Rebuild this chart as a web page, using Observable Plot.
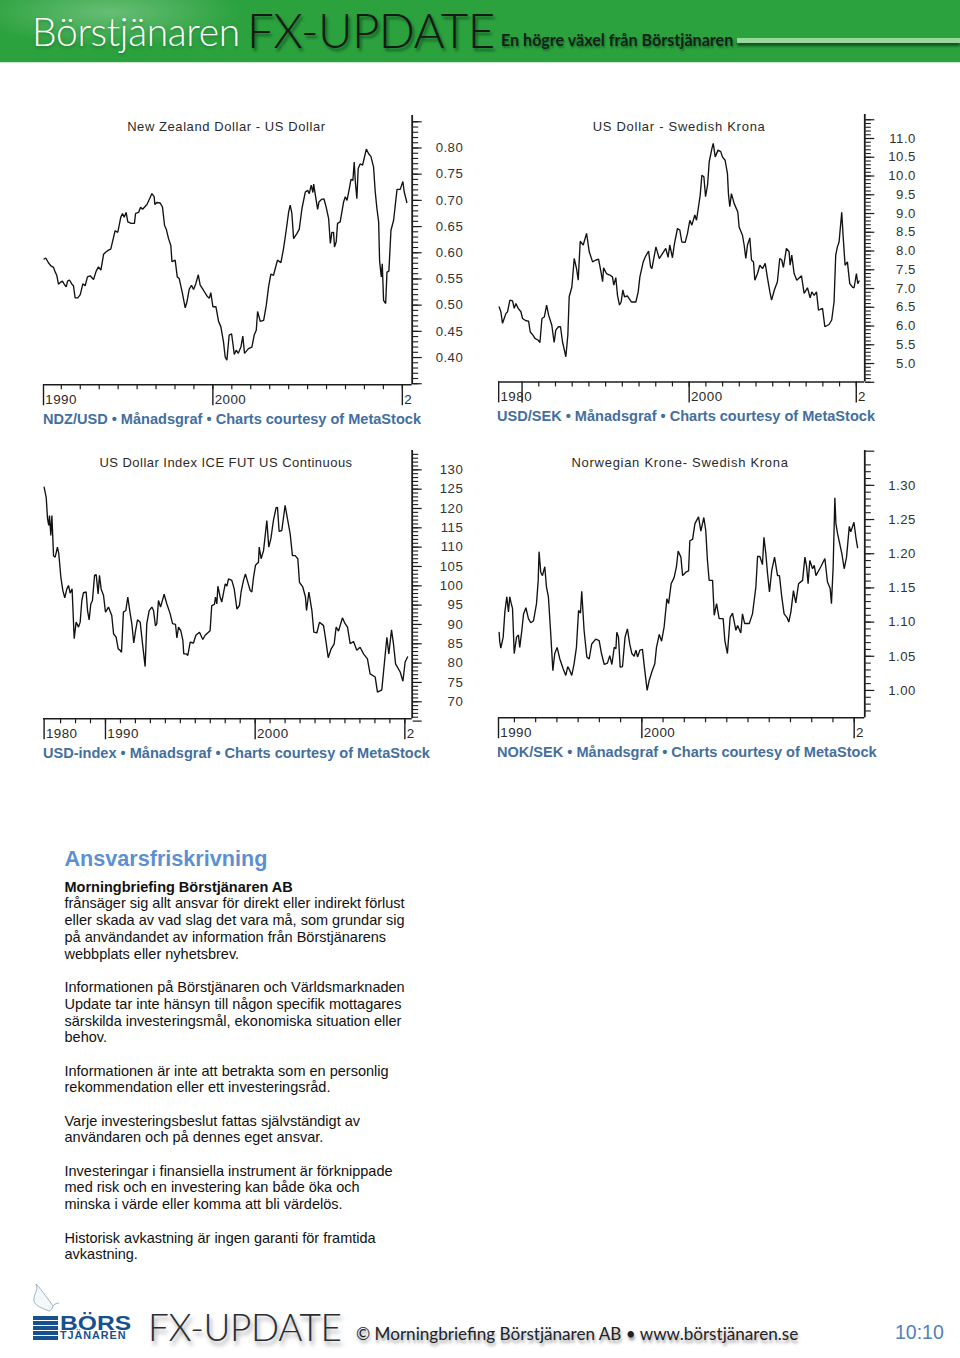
<!DOCTYPE html>
<html lang="sv">
<head>
<meta charset="utf-8">
<script src="https://cdn.jsdelivr.net/npm/d3@7"></script>
<script src="https://cdn.jsdelivr.net/npm/@observablehq/plot@0.6"></script>
<style>
html,body{margin:0;padding:0;background:#fff;}
#page{position:relative;width:960px;height:1358px;overflow:hidden;font-family:"Liberation Sans",Arial,sans-serif;}
.abs{position:absolute;white-space:nowrap;}
.chart{position:absolute;}
.chart svg{display:block;overflow:visible;}
#banner{position:absolute;left:0;top:0;width:960px;height:62px;background:#2ca23f;box-shadow:0 1px 1px #cfe6d2;}
#glow{position:absolute;left:0;top:0;width:300px;height:62px;background:radial-gradient(ellipse 130px 34px at 110px 12px,rgba(200,235,205,.38),rgba(44,162,63,0));}
.thin{font-family:Lato,"Open Sans",sans-serif;font-weight:300;}
.cap{font-weight:bold;font-size:14.55px;color:#436f9e;line-height:18px;}
.para{font-size:14.5px;line-height:16.75px;color:#111;left:64.5px;}
</style>
</head>
<body>
<div id="page">
  <div id="banner"><div id="glow"></div></div>
  <div class="abs thin" style="left:32px;top:7px;font-size:39px;line-height:48px;color:#fff;letter-spacing:-.35px;text-shadow:0 2px 3px rgba(30,80,40,.45)">Börstjänaren</div>
  <div class="abs thin" style="left:247px;top:2px;font-size:47.5px;line-height:56px;color:#151a15;letter-spacing:-.6px;text-shadow:2px 3px 3px rgba(0,50,15,.6)">FX-UPDATE</div>
  <div class="abs" style="left:501px;top:31px;font-family:Lato,sans-serif;font-weight:700;font-size:16.1px;line-height:18px;color:#12241a;text-shadow:1px 2px 2px rgba(0,50,15,.45)">En högre växel från Börstjänaren</div>
  <div class="abs" style="left:737px;top:38px;width:223px;height:5px;background:#9ad79c;box-shadow:0 3px 3px rgba(0,50,15,.7)"></div>

  <div id="c1" class="chart"></div>
  <div id="c2" class="chart"></div>
  <div id="c3" class="chart"></div>
  <div id="c4" class="chart"></div>

  <div class="abs cap" style="left:43px;top:410px">NDZ/USD • Månadsgraf • Charts courtesy of MetaStock</div>
  <div class="abs cap" style="left:497px;top:407px">USD/SEK • Månadsgraf • Charts courtesy of MetaStock</div>
  <div class="abs cap" style="left:43px;top:744px">USD-index • Månadsgraf • Charts courtesy of MetaStock</div>
  <div class="abs cap" style="left:497px;top:743px">NOK/SEK • Månadsgraf • Charts courtesy of MetaStock</div>

  <div class="abs" style="left:64.5px;top:846px;font-size:21.6px;line-height:26px;font-weight:bold;color:#5c90d2">Ansvarsfriskrivning</div>
  <div class="abs para" style="top:878.5px"><b>Morningbriefing Börstjänaren AB</b><br>frånsäger sig allt ansvar för direkt eller indirekt förlust<br>eller skada av vad slag det vara må, som grundar sig<br>på användandet av information från Börstjänarens<br>webbplats eller nyhetsbrev.</div>
  <div class="abs para" style="top:979px">Informationen på Börstjänaren och Världsmarknaden<br>Update tar inte hänsyn till någon specifik mottagares<br>särskilda investeringsmål, ekonomiska situation eller<br>behov.</div>
  <div class="abs para" style="top:1062.5px">Informationen är inte att betrakta som en personlig<br>rekommendation eller ett investeringsråd.</div>
  <div class="abs para" style="top:1112.5px">Varje investeringsbeslut fattas självständigt av<br>användaren och på dennes eget ansvar.</div>
  <div class="abs para" style="top:1162.5px">Investeringar i finansiella instrument är förknippade<br>med risk och en investering kan både öka och<br>minska i värde eller komma att bli värdelös.</div>
  <div class="abs para" style="top:1229.5px">Historisk avkastning är ingen garanti för framtida<br>avkastning.</div>

  <svg class="abs" style="left:30px;top:1282px" width="34" height="34" viewBox="0 0 34 34"><path d="M6 2 C9 8 3 13 4 19 C5 24 12 26 19 29 C21 29 22 27 23 24 C20 20 12 8 6 2 Z M23 24 C24 22 27 21 29 21" fill="#f4f8fb" stroke="#93a9b8" stroke-width="0.9"/></svg>
  <div class="abs" style="left:33px;top:1316px;width:25px;height:24px;background:repeating-linear-gradient(to bottom,#17508f 0 3.6px,#fff 3.6px 5px)"></div>
  <div class="abs" style="left:60px;top:1314px;font-weight:bold;font-size:20.5px;line-height:17px;color:#17508f;transform-origin:0 0;transform:scaleX(1.2)">BÖRS</div>
  <div class="abs" style="left:60px;top:1331px;font-weight:bold;font-size:10.8px;line-height:9px;color:#17508f;letter-spacing:.95px">TJÄNAREN</div>
  <div class="abs thin" style="left:148px;top:1300px;font-size:37px;line-height:54px;color:#2a2e33;letter-spacing:-.4px;text-shadow:2px 4px 4px rgba(70,70,70,.55)">FX-UPDATE</div>
  <div class="abs" style="left:356px;top:1323px;font-family:Lato,sans-serif;font-size:17.1px;line-height:21px;color:#1d2226;text-shadow:1px 3px 3px rgba(80,80,80,.55)">© Morningbriefing Börstjänaren AB • www.börstjänaren.se</div>
  <div class="abs" style="left:895px;top:1320px;font-size:19.5px;line-height:24px;color:#4f82b8">10:10</div>
</div>
<script>
const ndzUsd = [[1991.09,.588],[1991.18,.590],[1991.32,.581],[1991.45,.575],[1991.59,.572],[1991.68,.563],[1991.76,.557],[1991.85,.540],[1991.97,.544],[1992.06,.546],[1992.17,.539],[1992.26,.535],[1992.33,.546],[1992.43,.548],[1992.56,.540],[1992.64,.537],[1992.73,.514],[1992.87,.514],[1993.00,.520],[1993.14,.541],[1993.26,.537],[1993.38,.554],[1993.52,.556],[1993.70,.549],[1993.84,.565],[1993.96,.573],[1994.09,.567],[1994.23,.597],[1994.37,.602],[1994.49,.605],[1994.61,.607],[1994.76,.630],[1994.84,.642],[1994.98,.639],[1995.14,.668],[1995.23,.675],[1995.32,.668],[1995.42,.677],[1995.51,.659],[1995.69,.656],[1995.86,.656],[1995.92,.675],[1996.08,.677],[1996.18,.687],[1996.29,.683],[1996.52,.692],[1996.66,.703],[1996.78,.713],[1996.90,.707],[1996.94,.692],[1997.04,.696],[1997.22,.695],[1997.34,.687],[1997.45,.652],[1997.54,.645],[1997.66,.627],[1997.78,.614],[1997.84,.583],[1998.01,.586],[1998.12,.554],[1998.22,.551],[1998.38,.525],[1998.54,.495],[1998.63,.506],[1998.75,.530],[1998.87,.538],[1998.98,.530],[1999.10,.541],[1999.23,.558],[1999.33,.538],[1999.51,.528],[1999.68,.518],[1999.81,.513],[1999.89,.524],[2000.00,.497],[2000.16,.497],[2000.30,.469],[2000.42,.459],[2000.56,.430],[2000.65,.401],[2000.74,.395],[2000.86,.443],[2000.99,.445],[2001.13,.406],[2001.23,.414],[2001.34,.408],[2001.48,.420],[2001.58,.441],[2001.67,.408],[2001.88,.417],[2002.06,.420],[2002.18,.443],[2002.29,.452],[2002.36,.488],[2002.50,.469],[2002.68,.471],[2002.82,.500],[2002.94,.535],[2003.06,.559],[2003.20,.557],[2003.41,.586],[2003.59,.581],[2003.73,.608],[2003.87,.643],[2004.00,.678],[2004.08,.691],[2004.17,.675],[2004.26,.627],[2004.44,.637],[2004.56,.645],[2004.70,.684],[2004.88,.716],[2005.00,.719],[2005.09,.713],[2005.19,.729],[2005.28,.715],[2005.32,.731],[2005.44,.703],[2005.53,.683],[2005.60,.697],[2005.74,.702],[2005.86,.703],[2005.98,.687],[2006.11,.665],[2006.20,.618],[2006.28,.639],[2006.37,.639],[2006.42,.611],[2006.51,.621],[2006.58,.656],[2006.72,.659],[2006.90,.697],[2006.99,.707],[2007.08,.700],[2007.20,.722],[2007.29,.740],[2007.39,.738],[2007.46,.773],[2007.52,.735],[2007.60,.703],[2007.67,.761],[2007.78,.770],[2007.90,.767],[2008.10,.798],[2008.22,.789],[2008.34,.784],[2008.48,.764],[2008.57,.716],[2008.66,.684],[2008.75,.659],[2008.80,.584],[2008.89,.554],[2008.94,.579],[2009.01,.509],[2009.12,.503],[2009.19,.563],[2009.29,.565],[2009.40,.643],[2009.54,.662],[2009.72,.721],[2009.89,.721],[2010.03,.736],[2010.10,.716],[2010.24,.696]];

const usdSek = [[1988.63,6.51],[1988.73,6.38],[1988.83,6.07],[1988.93,6.20],[1989.03,6.33],[1989.13,6.38],[1989.27,6.69],[1989.43,6.67],[1989.53,6.47],[1989.63,6.60],[1989.77,6.47],[1989.93,6.38],[1990.03,6.20],[1990.23,6.14],[1990.39,6.13],[1990.49,5.84],[1990.63,5.77],[1990.77,5.67],[1990.97,5.62],[1991.07,5.56],[1991.19,6.20],[1991.33,6.24],[1991.47,6.56],[1991.59,6.29],[1991.78,6.02],[1991.92,5.56],[1992.02,5.89],[1992.18,5.98],[1992.30,5.98],[1992.42,5.58],[1992.62,5.18],[1992.74,5.76],[1992.82,6.78],[1992.98,7.04],[1993.12,7.80],[1993.26,7.53],[1993.36,7.22],[1993.48,8.26],[1993.66,8.16],[1993.86,8.47],[1994.02,7.98],[1994.22,7.71],[1994.42,7.76],[1994.58,7.78],[1994.72,7.45],[1994.82,7.18],[1994.88,7.55],[1995.05,7.40],[1995.25,7.36],[1995.41,7.31],[1995.49,7.09],[1995.61,7.29],[1995.71,6.82],[1995.83,6.56],[1995.93,6.64],[1996.03,6.96],[1996.13,6.78],[1996.31,6.80],[1996.55,6.64],[1996.81,6.64],[1996.95,6.91],[1997.05,7.31],[1997.25,7.71],[1997.37,7.84],[1997.57,8.00],[1997.69,7.58],[1997.77,7.53],[1998.01,8.11],[1998.21,7.80],[1998.40,7.93],[1998.60,8.07],[1998.74,7.83],[1998.84,8.16],[1999.00,7.82],[1999.12,8.20],[1999.30,8.60],[1999.44,8.56],[1999.56,8.24],[1999.76,8.23],[1999.90,8.47],[2000.04,8.82],[2000.16,8.69],[2000.34,8.96],[2000.44,8.82],[2000.66,9.49],[2000.76,10.02],[2000.88,9.98],[2000.98,9.45],[2001.10,9.76],[2001.20,10.38],[2001.36,10.73],[2001.44,10.87],[2001.56,10.51],[2001.73,10.69],[2001.89,10.65],[2001.99,10.51],[2002.15,10.42],[2002.29,10.07],[2002.35,9.53],[2002.43,9.18],[2002.53,9.53],[2002.69,9.27],[2002.91,9.04],[2002.99,8.64],[2003.19,8.42],[2003.29,8.16],[2003.39,7.80],[2003.49,8.16],[2003.63,8.35],[2003.73,7.76],[2003.85,7.71],[2003.93,7.22],[2004.09,7.40],[2004.23,7.62],[2004.39,7.53],[2004.55,7.67],[2004.69,7.27],[2004.83,6.91],[2004.93,6.69],[2005.10,6.96],[2005.28,7.18],[2005.42,7.80],[2005.54,7.76],[2005.64,7.56],[2005.82,8.07],[2005.98,7.98],[2006.04,7.62],[2006.14,7.89],[2006.28,7.40],[2006.44,7.22],[2006.72,7.34],[2006.88,6.87],[2007.08,7.02],[2007.24,6.75],[2007.34,6.91],[2007.48,6.82],[2007.62,6.91],[2007.74,6.42],[2007.98,6.47],[2008.12,5.98],[2008.37,6.04],[2008.53,6.16],[2008.67,6.64],[2008.77,7.89],[2008.87,8.11],[2008.97,8.24],[2009.13,9.03],[2009.21,8.42],[2009.33,7.62],[2009.47,7.71],[2009.61,7.13],[2009.77,7.04],[2009.87,7.02],[2010.01,7.40],[2010.09,7.13],[2010.17,7.20]];

const usdIndex = [[1985.90,125.5],[1986.04,122.9],[1986.13,117.3],[1986.21,115.6],[1986.26,118.2],[1986.35,113.0],[1986.42,118.2],[1986.53,107.8],[1986.64,107.4],[1986.79,110.0],[1986.88,108.3],[1987.02,102.2],[1987.15,98.8],[1987.28,96.9],[1987.42,99.2],[1987.53,100.1],[1987.64,98.1],[1987.77,99.2],[1987.91,86.3],[1988.04,90.6],[1988.20,89.3],[1988.31,90.6],[1988.42,96.2],[1988.53,98.2],[1988.71,98.4],[1988.80,93.6],[1988.91,91.2],[1989.02,95.3],[1989.13,96.2],[1989.27,102.7],[1989.38,102.9],[1989.51,97.9],[1989.60,102.7],[1989.71,99.2],[1989.87,97.5],[1990.00,93.2],[1990.20,94.5],[1990.42,92.3],[1990.54,87.6],[1990.71,86.7],[1990.85,83.7],[1990.98,83.3],[1991.07,82.8],[1991.20,93.2],[1991.36,93.6],[1991.49,97.1],[1991.65,92.8],[1991.76,90.2],[1991.89,85.2],[1992.01,88.4],[1992.14,91.2],[1992.32,90.6],[1992.45,85.9],[1992.65,79.1],[1992.76,90.2],[1992.92,93.6],[1993.10,94.5],[1993.21,93.6],[1993.34,89.6],[1993.43,90.2],[1993.54,96.2],[1993.68,94.5],[1993.92,97.8],[1994.10,95.3],[1994.32,92.8],[1994.48,90.2],[1994.68,90.0],[1994.77,86.5],[1994.88,89.3],[1995.03,88.4],[1995.17,85.9],[1995.23,82.4],[1995.39,82.4],[1995.50,82.0],[1995.66,85.4],[1995.88,85.2],[1996.04,87.2],[1996.28,88.0],[1996.50,86.1],[1996.66,87.2],[1996.99,88.4],[1997.10,94.9],[1997.28,95.2],[1997.35,97.1],[1997.44,95.3],[1997.51,99.9],[1997.66,97.1],[1997.77,95.8],[1998.00,100.5],[1998.11,99.9],[1998.22,101.8],[1998.44,101.4],[1998.60,99.2],[1998.78,94.0],[1998.95,94.9],[1999.06,98.4],[1999.22,101.4],[1999.35,103.1],[1999.51,100.9],[1999.67,98.8],[1999.78,98.4],[1999.89,102.2],[2000.02,105.3],[2000.22,106.1],[2000.27,110.0],[2000.40,107.0],[2000.56,109.1],[2000.78,116.9],[2000.91,110.0],[2001.05,112.2],[2001.22,116.9],[2001.40,120.2],[2001.49,120.3],[2001.60,114.1],[2001.78,114.3],[2002.00,120.8],[2002.16,117.3],[2002.34,113.4],[2002.49,107.8],[2002.67,107.8],[2002.85,107.0],[2002.96,100.9],[2003.18,99.7],[2003.36,97.1],[2003.43,93.6],[2003.59,98.4],[2003.79,93.6],[2003.92,88.0],[2004.12,87.8],[2004.30,90.6],[2004.57,89.7],[2004.72,85.9],[2004.88,81.4],[2005.08,83.7],[2005.28,85.0],[2005.41,89.3],[2005.57,88.3],[2005.83,91.7],[2006.01,90.2],[2006.17,89.3],[2006.35,85.0],[2006.57,85.6],[2006.79,83.3],[2007.01,84.1],[2007.24,82.4],[2007.50,81.1],[2007.68,77.2],[2008.02,76.4],[2008.17,72.5],[2008.46,73.1],[2008.64,80.3],[2008.80,86.7],[2008.93,82.4],[2009.11,88.6],[2009.24,85.0],[2009.38,79.8],[2009.69,77.7],[2009.87,75.3],[2010.02,80.3],[2010.18,81.6]];

const nokSek = [[1993.28,1.085],[1993.31,1.071],[1993.36,1.062],[1993.47,1.078],[1993.55,1.115],[1993.64,1.137],[1993.72,1.115],[1993.78,1.137],[1993.85,1.127],[1993.91,1.120],[1993.99,1.054],[1994.10,1.078],[1994.19,1.081],[1994.25,1.063],[1994.35,1.088],[1994.43,1.112],[1994.54,1.121],[1994.66,1.105],[1994.77,1.099],[1994.90,1.102],[1995.04,1.127],[1995.12,1.161],[1995.16,1.203],[1995.24,1.173],[1995.32,1.168],[1995.43,1.181],[1995.51,1.151],[1995.60,1.137],[1995.71,1.083],[1995.81,1.029],[1995.90,1.054],[1996.01,1.063],[1996.14,1.046],[1996.29,1.032],[1996.42,1.022],[1996.51,1.035],[1996.61,1.029],[1996.70,1.022],[1996.81,1.039],[1996.92,1.063],[1997.02,1.117],[1997.11,1.113],[1997.17,1.145],[1997.28,1.088],[1997.41,1.049],[1997.52,1.046],[1997.64,1.068],[1997.83,1.075],[1997.99,1.073],[1998.10,1.054],[1998.23,1.038],[1998.38,1.040],[1998.49,1.051],[1998.59,1.038],[1998.70,1.063],[1998.78,1.061],[1998.82,1.085],[1998.90,1.078],[1998.98,1.034],[1999.09,1.035],[1999.21,1.078],[1999.32,1.090],[1999.43,1.068],[1999.53,1.054],[1999.64,1.050],[1999.72,1.059],[1999.80,1.049],[1999.91,1.059],[2000.03,1.060],[2000.11,1.037],[2000.25,1.000],[2000.35,1.015],[2000.47,1.027],[2000.61,1.039],[2000.69,1.063],[2000.82,1.082],[2000.93,1.072],[2001.05,1.093],[2001.18,1.134],[2001.26,1.127],[2001.38,1.156],[2001.52,1.165],[2001.63,1.181],[2001.71,1.204],[2001.84,1.195],[2001.92,1.168],[2002.07,1.173],[2002.20,1.175],[2002.26,1.219],[2002.39,1.221],[2002.50,1.244],[2002.67,1.254],[2002.78,1.233],[2002.92,1.253],[2003.01,1.234],[2003.09,1.190],[2003.17,1.161],[2003.33,1.161],[2003.41,1.110],[2003.52,1.127],[2003.64,1.105],[2003.83,1.105],[2003.91,1.073],[2004.03,1.054],[2004.16,1.107],[2004.27,1.113],[2004.43,1.088],[2004.51,1.095],[2004.66,1.084],[2004.74,1.112],[2004.84,1.098],[2005.06,1.098],[2005.21,1.112],[2005.37,1.151],[2005.45,1.196],[2005.56,1.196],[2005.68,1.184],[2005.75,1.224],[2005.84,1.200],[2005.92,1.171],[2006.01,1.144],[2006.12,1.176],[2006.25,1.195],[2006.39,1.168],[2006.48,1.168],[2006.59,1.137],[2006.70,1.112],[2006.83,1.107],[2006.92,1.100],[2007.02,1.115],[2007.14,1.146],[2007.25,1.128],[2007.38,1.156],[2007.57,1.161],[2007.68,1.195],[2007.76,1.181],[2007.83,1.156],[2007.91,1.190],[2008.04,1.178],[2008.12,1.183],[2008.20,1.168],[2008.43,1.181],[2008.62,1.193],[2008.74,1.159],[2008.87,1.149],[2008.93,1.127],[2009.01,1.181],[2009.09,1.282],[2009.14,1.244],[2009.22,1.229],[2009.42,1.200],[2009.53,1.178],[2009.64,1.195],[2009.77,1.240],[2009.84,1.232],[2009.99,1.246],[2010.08,1.224],[2010.16,1.209]];

const ndzLabels = [0.80,0.75,0.70,0.65,0.60,0.55,0.50,0.45,0.40];
const sekLabels = [11.0,10.5,10.0,9.5,9.0,8.5,8.0,7.5,7.0,6.5,6.0,5.5,5.0];
const indexLabels = [130,125,120,115,110,105,100,95,90,85,80,75,70];
const nokLabels = [1.30,1.25,1.20,1.15,1.10,1.05,1.00];

const ndzYearMarks = [{year:1991.06,label:"1990"},{year:2000,label:"2000"},{year:2010,label:"2"}];
const sekYearMarks = [{year:1988.6,label:"1980"},{year:1990,label:""},{year:2000,label:"2000"},{year:2010,label:"2"}];
const indexYearMarks = [{year:1985.9,label:"1980"},{year:1990,label:"1990"},{year:2000,label:"2000"},{year:2010,label:"2"}];
const nokYearMarks = [{year:1993.25,label:"1990"},{year:2000,label:"2000"},{year:2010,label:"2"}];

function drawChart(o){
  const fw = o.right - o.left, fh = o.bottom - o.top;
  const host = document.getElementById(o.id);
  host.style.left = (o.left - 10) + "px";
  host.style.top = (o.top - 10) + "px";
  const stroke = "#1c1c1c";
  const svg = Plot.plot({
    width: fw + 70, height: fh + 42,
    marginLeft: 10, marginRight: 60, marginTop: 10, marginBottom: 32,
    style: {background:"transparent", fontFamily:'"Liberation Sans",Arial,sans-serif', color:"#333"},
    x: {domain:o.xDomain, axis:null},
    y: {domain:o.yDomain, axis:null},
    marks: [
      Plot.axisX(o.minorYears, {anchor:"bottom", label:null, tickSize:5, tickFormat:()=>"", stroke, strokeWidth:1.2}),
      Plot.axisX(o.yearMarks.map(d=>d.year), {anchor:"bottom", label:null, tickSize:21, tickFormat:()=>"", stroke, strokeWidth:1.4}),
      Plot.text(o.yearMarks, {x:"year", text:"label", frameAnchor:"bottom", lineAnchor:"middle", textAnchor:"start", dx:1.8, dy:14.8, fontSize:13.4, fill:"#2a2a2a"}),
      Plot.axisY(o.minorTicks, {anchor:"right", label:null, tickSize:5.5, tickFormat:()=>"", stroke, strokeWidth:1.1}),
      Plot.axisY(o.majorTicks, {anchor:"right", label:null, tickSize:9, tickFormat:()=>"", stroke, strokeWidth:1.2}),
      Plot.axisY(o.labels, {anchor:"right", label:null, tickSize:0, tickPadding:51, textAnchor:"end", lineAnchor:"middle", tickFormat:o.format, fontSize:13.2, fill:"#333"}),
      Plot.ruleX([o.xDomain[1]], {stroke, strokeWidth:1.8}),
      Plot.ruleY([o.yDomain[0]], {stroke, strokeWidth:1.5}),
      Plot.line(o.data, {x:d=>d[0], y:d=>d[1], stroke:"#121212", strokeWidth:1.35, strokeLinejoin:"miter"}),
      Plot.text([o.title], {frameAnchor:"top-left", lineAnchor:"middle", textAnchor:"middle", dx:o.titleX - o.left, dy:o.titleY - o.top, fontSize:13, fill:"#2a2a2a", text:d=>d})
    ]
  });
  svg.querySelectorAll("text").forEach(t=>{ t.style.letterSpacing = ".45px"; });
  const titleNode = [...svg.querySelectorAll("text")].find(t=>t.textContent===o.title);
  if (titleNode) titleNode.style.letterSpacing = o.titleSpacing + "px";
  host.appendChild(svg);
}

drawChart({id:"c1", left:43.3, right:412, top:115, bottom:384.3, xDomain:[1991.06,2010.52], yDomain:[.348,.862],
  data:ndzUsd, labels:ndzLabels, format:d=>d.toFixed(2), yearMarks:ndzYearMarks,
  minorYears:d3.range(1992,2011), majorTicks:d3.range(7,18).map(d=>d*.05), minorTicks:d3.range(35,86).map(d=>d/100),
  title:"New Zealand Dollar - US Dollar", titleX:226.2, titleY:126.7, titleSpacing:.58});

drawChart({id:"c2", left:497.7, right:864, top:114.3, bottom:381.7, xDomain:[1988.59,2010.51], yDomain:[4.51,11.64],
  data:usdSek, labels:sekLabels, format:d=>d.toFixed(1), yearMarks:sekYearMarks,
  minorYears:d3.range(1991,2011), majorTicks:d3.range(9,24).map(d=>d*.5), minorTicks:d3.range(45,116).map(d=>d/10),
  title:"US Dollar - Swedish Krona", titleX:678.3, titleY:126.7, titleSpacing:.74});

drawChart({id:"c3", left:43.3, right:412, top:450, bottom:718.3, xDomain:[1985.86,2010.49], yDomain:[65.6,135],
  data:usdIndex, labels:indexLabels, format:d=>String(d), yearMarks:indexYearMarks,
  minorYears:d3.range(1987,2011), majorTicks:d3.range(13,27).map(d=>d*5), minorTicks:d3.range(66,135),
  title:"US Dollar Index ICE FUT US Continuous", titleX:225.8, titleY:462, titleSpacing:.47});

drawChart({id:"c4", left:497.7, right:864, top:450, bottom:717.3, xDomain:[1993.25,2010.5], yDomain:[.96,1.351],
  data:nokSek, labels:nokLabels, format:d=>d.toFixed(2), yearMarks:nokYearMarks,
  minorYears:d3.range(1994,2011), majorTicks:[1.35,1.30,1.25,1.20,1.15,1.10,1.05,1.00], minorTicks:d3.range(97,134).map(d=>d/100),
  title:"Norwegian Krone- Swedish Krona", titleX:679.3, titleY:462, titleSpacing:.72});
</script>
</body>
</html>
